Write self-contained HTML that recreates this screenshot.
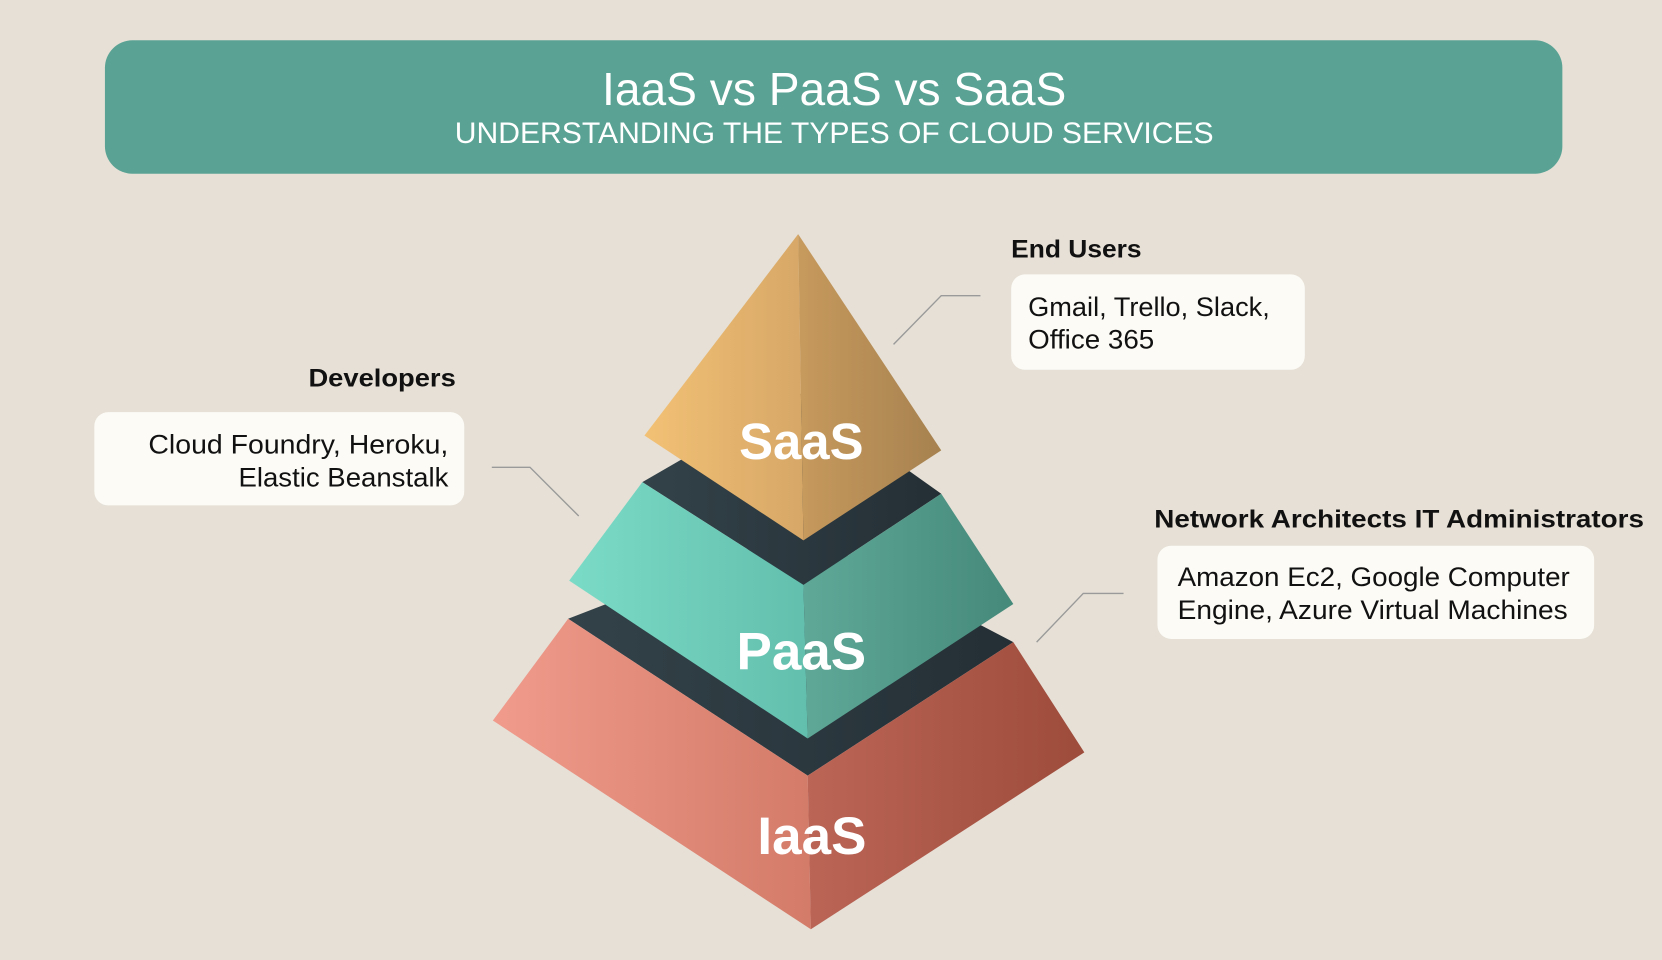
<!DOCTYPE html>
<html><head><meta charset="utf-8"><style>
html,body{margin:0;padding:0;background:#e6e0d6;}
svg{display:block}
text{font-family:"Liberation Sans",sans-serif}
</style></head><body>
<svg width="1662" height="960" viewBox="0 0 1568 906" preserveAspectRatio="none" xmlns="http://www.w3.org/2000/svg">
<defs>
<linearGradient id="sl" x1="0" x2="1"><stop offset="0" stop-color="#f3c175"/><stop offset="1" stop-color="#d6a767"/></linearGradient>
<linearGradient id="sr" x1="0" x2="1"><stop offset="0" stop-color="#c79a5d"/><stop offset="1" stop-color="#a6814f"/></linearGradient>
<linearGradient id="pl" x1="0" x2="1"><stop offset="0" stop-color="#7adbc6"/><stop offset="1" stop-color="#63bfad"/></linearGradient>
<linearGradient id="pr" x1="0" x2="1"><stop offset="0" stop-color="#5fa898"/><stop offset="1" stop-color="#45897a"/></linearGradient>
<linearGradient id="il" x1="0" x2="1"><stop offset="0" stop-color="#f09b8c"/><stop offset="1" stop-color="#d47b69"/></linearGradient>
<linearGradient id="ir" x1="0" x2="1"><stop offset="0" stop-color="#bb6556"/><stop offset="1" stop-color="#9d4b3b"/></linearGradient>
<linearGradient id="dk" x1="0" x2="1"><stop offset="0" stop-color="#334249"/><stop offset="1" stop-color="#242f35"/></linearGradient>
</defs>
<rect width="1568" height="906" fill="#e6e0d6"/>
<rect x="99" y="38" width="1375" height="126" rx="26" fill="#5aa394"/>
<text x="568" y="99" textLength="438" lengthAdjust="spacingAndGlyphs" font-size="44" fill="#fff">IaaS vs PaaS vs SaaS</text>
<text x="429" y="135" textLength="716" lengthAdjust="spacingAndGlyphs" font-size="28" fill="#fff">UNDERSTANDING THE TYPES OF CLOUD SERVICES</text>

<polygon points="536,584 753,500 956,606 762,732" fill="url(#dk)"/>
<polygon points="536,584 762,732 765,877 465,680" fill="url(#il)"/>
<polygon points="762,732 956,606 1023,710 765,877" fill="url(#ir)"/>
<polygon points="606,455 753,370 888,466 758,552" fill="url(#dk)"/>
<polygon points="606,455 758,552 762,697 537,548" fill="url(#pl)"/>
<polygon points="758,552 888,466 956,570 762,697" fill="url(#pr)"/>
<polygon points="753,221 758,510 608,411" fill="url(#sl)"/>
<polygon points="753,221 888,425 758,510" fill="url(#sr)"/>

<text x="756" y="433" text-anchor="middle" font-size="48" font-weight="bold" fill="#fff">SaaS</text>
<text x="756" y="632" text-anchor="middle" font-size="50" font-weight="bold" fill="#fff">PaaS</text>
<text x="766" y="806" text-anchor="middle" font-size="50" font-weight="bold" fill="#fff">IaaS</text>

<g stroke="#9a9a9a" stroke-width="1.3" fill="none">
<polyline points="843,325 888,279 925,279"/>
<polyline points="464,441 500,441 546,487"/>
<polyline points="978,606 1022,560 1060,560"/>
</g>

<text x="954" y="243" textLength="123" lengthAdjust="spacingAndGlyphs" font-size="24" font-weight="bold" fill="#111">End Users</text>
<rect x="954" y="259" width="277" height="90" rx="13" fill="#fcfbf6"/>
<text x="970" y="298" textLength="228" lengthAdjust="spacingAndGlyphs" font-size="25" fill="#111">Gmail, Trello, Slack,</text>
<text x="970" y="329" textLength="119" lengthAdjust="spacingAndGlyphs" font-size="25" fill="#111">Office 365</text>

<text x="291" y="365" textLength="139" lengthAdjust="spacingAndGlyphs" font-size="24" font-weight="bold" fill="#111">Developers</text>
<rect x="89" y="389" width="349" height="88" rx="13" fill="#fcfbf6"/>
<text x="140" y="428" textLength="283" lengthAdjust="spacingAndGlyphs" font-size="25" fill="#111">Cloud Foundry, Heroku,</text>
<text x="225" y="459" textLength="198" lengthAdjust="spacingAndGlyphs" font-size="25" fill="#111">Elastic Beanstalk</text>

<text x="1089" y="498" textLength="462" lengthAdjust="spacingAndGlyphs" font-size="24" font-weight="bold" fill="#111">Network Architects IT Administrators</text>
<rect x="1092" y="515" width="412" height="88" rx="13" fill="#fcfbf6"/>
<text x="1111" y="553" textLength="370" lengthAdjust="spacingAndGlyphs" font-size="25" fill="#111">Amazon Ec2, Google Computer</text>
<text x="1111" y="584" textLength="368" lengthAdjust="spacingAndGlyphs" font-size="25" fill="#111">Engine, Azure Virtual Machines</text>
</svg>
</body></html>
